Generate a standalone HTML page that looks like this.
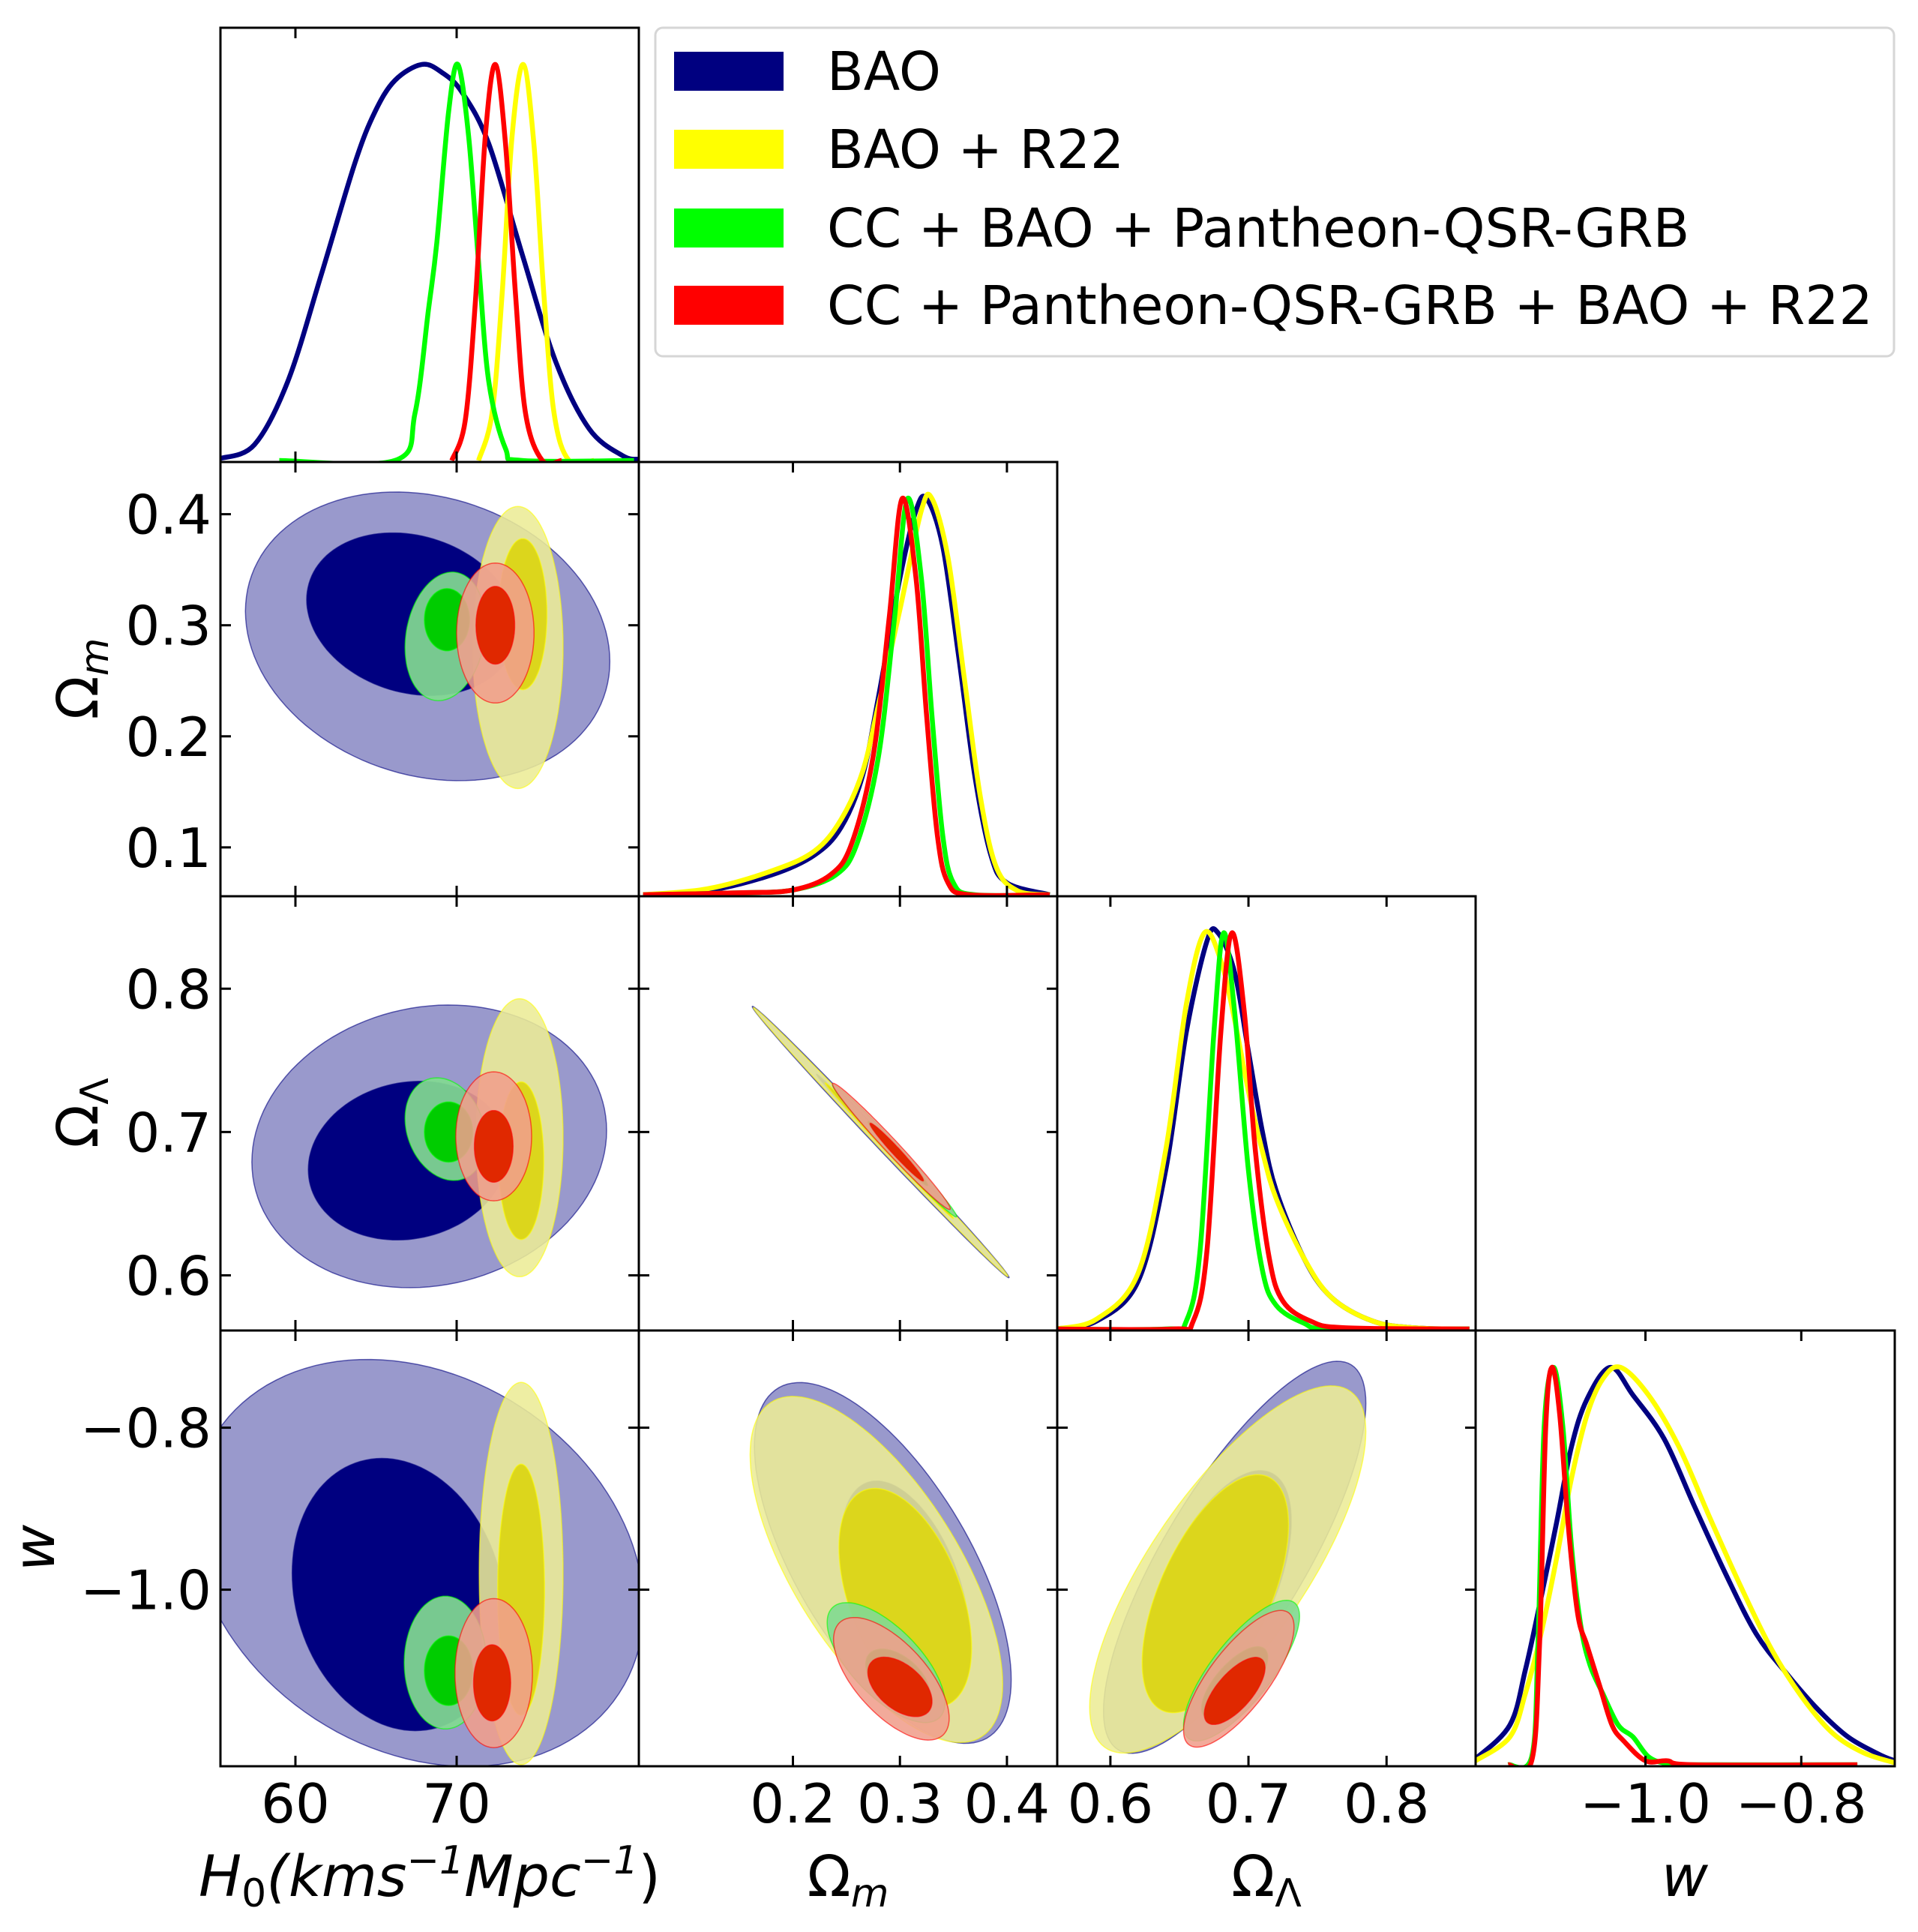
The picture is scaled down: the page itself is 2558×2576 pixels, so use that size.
<!DOCTYPE html>
<html><head><meta charset="utf-8"><style>
html,body{margin:0;padding:0;background:#fff;}
svg{display:block;font-family:"DejaVu Sans","Liberation Sans",sans-serif;}
</style></head><body>
<svg id="fig" width="2558" height="2576" viewBox="0 0 2558 2576" xmlns="http://www.w3.org/2000/svg"></svg>
<script>
// ---------- data ----------
const seriesNames = ["BAO","BAO + R22","CC + BAO + Pantheon-QSR-GRB","CC + Pantheon-QSR-GRB + BAO + R22"];
const paramNames = ["H0","Om","OL","w"];
const ranges = [[55.35,81.3],[0.056,0.447],[0.5615,0.8645],[-1.218,-0.68]];
const tickH0 = [60,70];
const tickOm = [0.1,0.2,0.3,0.4];
const tickOmX = [0.2,0.3,0.4];
const tickOL = [0.6,0.7,0.8];
const tickW = [-1.0,-0.8];
const tickLabelsH0 = ["60","70"];
// 1D marginals: [x, relative density]
const margH0_BAO = [[55.34,0.005],[57.46,0.04],[59.53,0.2],[61.61,0.47],[63.68,0.75],[64.93,0.88],[66.18,0.96],[67.84,1],[69.08,0.98],[70.33,0.93],[71.99,0.8],[74.07,0.52],[76.14,0.25],[78.22,0.08],[80.3,0.012],[81.3,0.003]];
const margH0_R22 = [[71.36,0],[72.2,0.12],[72.82,0.42],[73.44,0.82],[74.13,1],[74.79,0.8],[75.41,0.42],[76.04,0.12],[76.97,0],[78.5,0]];
const margH0_CC = [[59,0],[66.17,0],[67.42,0.12],[68.25,0.38],[68.77,0.55],[69.5,0.88],[70.08,1],[70.74,0.82],[71.36,0.5],[71.99,0.2],[73.03,0.03],[74.06,0],[81,0]];
const margH0_ALL = [[69.7,0],[70.53,0.1],[71.16,0.4],[71.78,0.82],[72.4,1],[73.03,0.8],[73.65,0.42],[74.27,0.12],[75.31,0],[76.5,0]];
const margOm_BAO = [[0.06,0],[0.12,0.01],[0.18,0.05],[0.22,0.1],[0.245,0.17],[0.265,0.3],[0.28,0.5],[0.3,0.8],[0.315,0.97],[0.325,1],[0.34,0.88],[0.355,0.6],[0.37,0.3],[0.385,0.1],[0.40,0.03],[0.44,0]];
const margOm_R22 = [[0.06,0],[0.12,0.015],[0.18,0.06],[0.22,0.11],[0.245,0.19],[0.265,0.31],[0.28,0.48],[0.3,0.72],[0.32,0.97],[0.33,1],[0.345,0.85],[0.36,0.55],[0.375,0.25],[0.39,0.07],[0.41,0.01],[0.44,0]];
const margOm_CC = [[0.06,0],[0.15,0.005],[0.2,0.012],[0.24,0.05],[0.26,0.13],[0.28,0.35],[0.295,0.7],[0.307,1],[0.32,0.8],[0.33,0.45],[0.34,0.15],[0.35,0.03],[0.37,0],[0.44,0]];
const margOm_ALL = [[0.06,0],[0.15,0.005],[0.2,0.012],[0.235,0.05],[0.255,0.13],[0.275,0.35],[0.29,0.7],[0.302,1],[0.315,0.8],[0.325,0.45],[0.335,0.15],[0.345,0.03],[0.365,0],[0.44,0]];
const margOL_BAO = [[0.56,0],[0.59,0.02],[0.62,0.12],[0.64,0.4],[0.655,0.75],[0.67,0.98],[0.678,1],[0.69,0.9],[0.7,0.7],[0.71,0.5],[0.72,0.35],[0.74,0.18],[0.76,0.08],[0.79,0.02],[0.82,0.003],[0.86,0]];
const margOL_R22 = [[0.56,0],[0.59,0.025],[0.62,0.14],[0.64,0.45],[0.655,0.82],[0.668,1],[0.68,0.93],[0.69,0.78],[0.7,0.6],[0.71,0.45],[0.72,0.33],[0.74,0.18],[0.76,0.08],[0.79,0.02],[0.82,0.003],[0.86,0]];
const margOL_CC = [[0.56,0],[0.64,0],[0.655,0.02],[0.665,0.2],[0.675,0.75],[0.682,1],[0.69,0.8],[0.7,0.4],[0.71,0.15],[0.72,0.06],[0.74,0.015],[0.76,0],[0.86,0]];
const margOL_ALL = [[0.56,0],[0.645,0],[0.66,0.02],[0.67,0.2],[0.68,0.75],[0.688,1],[0.697,0.8],[0.705,0.45],[0.715,0.18],[0.725,0.07],[0.745,0.02],[0.77,0.003],[0.86,0]];
const margW_BAO = [[-1.218,0.015],[-1.174,0.1],[-1.154,0.24],[-1.134,0.42],[-1.114,0.61],[-1.095,0.8],[-1.075,0.92],[-1.045,1],[-1.016,0.93],[-0.976,0.82],[-0.937,0.65],[-0.897,0.48],[-0.858,0.33],[-0.819,0.23],[-0.779,0.14],[-0.74,0.07],[-0.7,0.026],[-0.68,0.01]];
const margW_R22 = [[-1.218,0.01],[-1.174,0.07],[-1.154,0.18],[-1.134,0.33],[-1.114,0.52],[-1.095,0.72],[-1.075,0.88],[-1.055,0.97],[-1.032,1],[-0.996,0.93],[-0.957,0.8],[-0.917,0.62],[-0.878,0.45],[-0.838,0.29],[-0.799,0.17],[-0.76,0.08],[-0.72,0.03],[-0.68,0.005]];
const margW_CC = [[-1.176,0],[-1.146,0.02],[-1.138,0.3],[-1.13,0.85],[-1.118,1],[-1.106,0.85],[-1.095,0.55],[-1.083,0.35],[-1.071,0.25],[-1.055,0.18],[-1.035,0.1],[-1.016,0.07],[-0.996,0.02],[-0.972,0.003],[-0.937,0],[-0.728,0]];
const margW_ALL = [[-1.176,0],[-1.146,0.01],[-1.136,0.3],[-1.128,0.85],[-1.12,1],[-1.11,0.88],[-1.099,0.6],[-1.087,0.38],[-1.075,0.3],[-1.059,0.2],[-1.043,0.1],[-1.028,0.06],[-1.0,0.01],[-0.972,0.01],[-0.937,0],[-0.728,0]];
// 2D contours: [cx, cy, halfWidthX, halfWidthY, skew]  (outer, inner)
const c_H0_Om = {
 BAO:[[68.2,0.29,11.3,0.128,-0.002],[67.2,0.31,6.5,0.072,-0.002]],
 R22:[[73.8,0.28,2.8,0.127,0],[74.1,0.31,1.5,0.068,0]],
 CC:[[69.3,0.29,2.5,0.057,0.004],[69.4,0.305,1.4,0.028,0]],
 ALL:[[72.4,0.293,2.4,0.063,0],[72.4,0.30,1.2,0.035,0]]};
const c_H0_OL = {
 BAO:[[68.3,0.69,11,0.098,0.001],[67,0.68,6.2,0.055,0.001]],
 R22:[[73.9,0.696,2.7,0.097,0],[74,0.68,1.4,0.055,0]],
 CC:[[69.3,0.702,2.5,0.035,-0.003],[69.5,0.70,1.5,0.021,0]],
 ALL:[[72.3,0.697,2.35,0.045,0],[72.3,0.69,1.2,0.025,0]]};
const c_Om_OL = {
 BAO:[[0.282,0.693,0.12,0.006,-0.7875],[0.282,0.693,0.06,0.003,-0.7875]],
 R22:[[0.282,0.693,0.119,0.005,-0.7875],[0.29,0.687,0.06,0.003,-0.7875]],
 CC:[[0.295,0.687,0.058,0.006,-0.79],[0.298,0.685,0.028,0.004,-0.79]],
 ALL:[[0.292,0.69,0.055,0.007,-0.79],[0.297,0.686,0.025,0.004,-0.79]]};
const c_H0_W = {
 BAO:[[67.6,-0.967,14,0.245,-0.004],[66.4,-1.006,6.6,0.166,-0.004]],
 R22:[[74,-0.98,2.6,0.236,0],[74,-1.0,1.45,0.155,0]],
 CC:[[69.3,-1.09,2.55,0.082,0],[69.5,-1.10,1.5,0.043,0]],
 ALL:[[72.3,-1.103,2.4,0.092,0],[72.2,-1.115,1.15,0.047,0]]};
const c_Om_W = {
 BAO:[[0.284,-0.967,0.12,0.17,-1.2],[0.305,-1.0,0.06,0.12,-1.0]],
 R22:[[0.278,-0.975,0.118,0.16,-1.2],[0.305,-1.01,0.062,0.12,-1.0]],
 CC:[[0.287,-1.09,0.055,0.055,-0.9],[0.298,-1.11,0.03,0.032,-0.6]],
 ALL:[[0.292,-1.11,0.054,0.058,-0.9],[0.30,-1.12,0.03,0.032,-0.6]]};
const c_OL_W = {
 BAO:[[0.69,-0.96,0.095,0.15,2.0],[0.678,-1.0,0.053,0.12,1.6]],
 R22:[[0.685,-0.975,0.1,0.15,1.7],[0.676,-1.005,0.053,0.12,1.6]],
 CC:[[0.695,-1.1,0.042,0.055,1.6],[0.69,-1.115,0.024,0.032,1.3]],
 ALL:[[0.693,-1.11,0.04,0.055,1.6],[0.69,-1.125,0.022,0.03,1.3]]};

// ---------- layout ----------
const NS="http://www.w3.org/2000/svg";
const svg=document.getElementById('fig');
const PX=[294,852,1410,1968,2527], PY=[37,616,1195,1774,2355];
const colors={BAO:"#000080",R22:"#ffff00",CC:"#00ff00",ALL:"#ff0000"};
const fillOuter={BAO:"rgba(0,0,128,0.4)",R22:"rgba(236,236,150,0.88)",CC:"rgba(130,218,145,0.92)",ALL:"rgba(240,158,140,0.88)"};
const fillInner={BAO:"#000080",R22:"#dcd61c",CC:"#00cc00",ALL:"#e02800"};
function el(tag,attrs,parent){const e=document.createElementNS(NS,tag);for(const k in attrs)e.setAttribute(k,attrs[k]);(parent||svg).appendChild(e);return e;}
function sx(p,col,v){const r=ranges[p];return PX[col]+(v-r[0])/(r[1]-r[0])*(PX[col+1]-PX[col]);}
function sy(p,row,v){const r=ranges[p];return PY[row+1]-(v-r[0])/(r[1]-r[0])*(PY[row+1]-PY[row]);}
function smooth(pts){let d="M"+pts[0][0]+","+pts[0][1];for(let i=0;i<pts.length-1;i++){const p0=pts[Math.max(0,i-1)],p1=pts[i],p2=pts[i+1],p3=pts[Math.min(pts.length-1,i+2)];const c1=[p1[0]+(p2[0]-p0[0])/6,p1[1]+(p2[1]-p0[1])/6],c2=[p2[0]-(p3[0]-p1[0])/6,p2[1]-(p3[1]-p1[1])/6];d+=" C"+c1[0]+","+c1[1]+" "+c2[0]+","+c2[1]+" "+p2[0]+","+p2[1];}return d;}
let clipId=0;
function panel(row,col,name){
  const g=el('g',{});
  
  
  const id='clip'+(clipId++);
  const cp=el('clipPath',{id:id},g);
  el('rect',{x:PX[col],y:PY[row],width:PX[col+1]-PX[col],height:PY[row+1]-PY[row]},cp);
  const inner=el('g',{'clip-path':'url(#'+id+')'},g);
  return {g,inner};
}
function frame(g,row,col){
  const r=el('rect',{x:PX[col],y:PY[row],width:PX[col+1]-PX[col],height:PY[row+1]-PY[row],fill:'none',stroke:'#000','stroke-width':3},g);
  
  
}
const xticksFor=[tickH0,tickOmX,tickOL,tickW];
const yticksFor=[null,tickOm,tickOL,tickW];
function ticks(g,row,col,diag){
  const tl=14;
  xticksFor[col].forEach(t=>{const x=sx(col,col,t);
    el('line',{x1:x,y1:PY[row+1],x2:x,y2:PY[row+1]-tl,stroke:'#000','stroke-width':3},g);
    el('line',{x1:x,y1:PY[row],x2:x,y2:PY[row]+tl,stroke:'#000','stroke-width':3},g);});
  if(!diag){yticksFor[row].forEach(t=>{const y=sy(row,row,t);
    el('line',{x1:PX[col],y1:y,x2:PX[col]+tl,y2:y,stroke:'#000','stroke-width':3},g);
    el('line',{x1:PX[col+1],y1:y,x2:PX[col+1]-tl,y2:y,stroke:'#000','stroke-width':3},g);});}
}
function contourPath(p,row,pc,pr,c){
  const pts=[];for(let i=0;i<120;i++){const th=i/120*2*Math.PI;const dx=c[2]*Math.cos(th);const x=c[0]+dx;const y=c[1]+c[3]*Math.sin(th)+c[4]*dx;pts.push((i?"L":"M")+sx(pc,p,x).toFixed(1)+","+sy(pr,row,y).toFixed(1));}
  return pts.join(" ")+"Z";
}
function draw2D(row,col,data,name){
  const {g,inner}=panel(row,col,name);
  ["BAO","R22","CC","ALL"].forEach(s=>{
    const o=el('path',{d:contourPath(col,row,col,row,data[s][0]),fill:fillOuter[s],stroke:colors[s],'stroke-width':1.5,'stroke-opacity':0.6},inner);
    
    
    const n=el('path',{d:contourPath(col,row,col,row,data[s][1]),fill:fillInner[s],stroke:colors[s],'stroke-width':1.5,'stroke-opacity':0.6},inner);
    
    
  });
  frame(g,row,col);ticks(g,row,col,false);
}
function draw1D(i,marg,name){
  const {g,inner}=panel(i,i,name);
  const H=(PY[i+1]-PY[i])*0.912;
  ["BAO","R22","CC","ALL"].forEach(s=>{
    const pts=marg[s].map(d=>[sx(i,i,d[0]),PY[i+1]-2-d[1]*H]);
    const p=el('path',{d:smooth(pts),fill:'none',stroke:colors[s],'stroke-width':6.5,'stroke-linejoin':'round'},inner);
    
    
  });
  frame(g,i,i);ticks(g,i,i,true);
}
draw1D(0,{BAO:margH0_BAO,R22:margH0_R22,CC:margH0_CC,ALL:margH0_ALL},'marginal-h0');
draw1D(1,{BAO:margOm_BAO,R22:margOm_R22,CC:margOm_CC,ALL:margOm_ALL},'marginal-omega-m');
draw1D(2,{BAO:margOL_BAO,R22:margOL_R22,CC:margOL_CC,ALL:margOL_ALL},'marginal-omega-lambda');
draw1D(3,{BAO:margW_BAO,R22:margW_R22,CC:margW_CC,ALL:margW_ALL},'marginal-w');
draw2D(1,0,c_H0_Om,'panel-h0-omega-m');
draw2D(2,0,c_H0_OL,'panel-h0-omega-lambda');
draw2D(2,1,c_Om_OL,'panel-omega-m-omega-lambda');
draw2D(3,0,c_H0_W,'panel-h0-w');
draw2D(3,1,c_Om_W,'panel-omega-m-w');
draw2D(3,2,c_OL_W,'panel-omega-lambda-w');

// tick labels
const fs=72;
function txt(x,y,s,anchor,name,extra){const t=el('text',Object.assign({x:x,y:y,'font-size':fs,'text-anchor':anchor,fill:'#000'},extra||{}));t.textContent=s;
  
  return t;}
function fmt(v,dec){const s=Math.abs(v).toFixed(dec);return (v<0?"\u2212":"")+s;}
tickH0.forEach((t,i)=>txt(sx(0,0,t),2430,tickLabelsH0[i],'middle','x-tick-label'));
tickOmX.forEach(t=>txt(sx(1,1,t),2430,fmt(t,1),'middle','x-tick-label'));
tickOL.forEach(t=>txt(sx(2,2,t),2430,fmt(t,1),'middle','x-tick-label'));
tickW.forEach(t=>txt(sx(3,3,t),2430,fmt(t,1),'middle','x-tick-label'));
tickOm.forEach(t=>txt(282,sy(1,1,t)+26,fmt(t,1),'end','y-tick-label'));
tickOL.forEach(t=>txt(282,sy(2,2,t)+26,fmt(t,1),'end','y-tick-label'));
tickW.forEach(t=>txt(282,sy(3,3,t)+26,fmt(t,1),'end','y-tick-label'));

// axis labels
function axLabel(x,y,html,name,rot){const t=el('text',{x:x,y:y,'font-size':76,'text-anchor':'middle',fill:'#000','font-style':'italic'});
  if(rot)t.setAttribute('transform','rotate(-90 '+x+' '+y+')');
  t.innerHTML=html;
  
  }
axLabel(573,2528,'H<tspan font-size="52" dy="14" font-style="normal">0</tspan><tspan dy="-14">(kms</tspan><tspan font-size="52" dy="-30">\u22121</tspan><tspan dy="30">Mpc</tspan><tspan font-size="52" dy="-30">\u22121</tspan><tspan dy="30" font-style="normal">)</tspan>','x-axis-title-h0');
axLabel(1131,2528,'<tspan font-style="normal">\u03A9</tspan><tspan font-size="52" dy="14">m</tspan>','x-axis-title-omega-m');
axLabel(1689,2528,'<tspan font-style="normal">\u03A9</tspan><tspan font-size="52" dy="14" font-style="normal">\u039B</tspan>','x-axis-title-omega-lambda');
axLabel(2247,2528,'w','x-axis-title-w');
axLabel(130,905,'<tspan font-style="normal">\u03A9</tspan><tspan font-size="52" dy="14">m</tspan>','y-axis-title-omega-m',true);
axLabel(130,1484,'<tspan font-style="normal">\u03A9</tspan><tspan font-size="52" dy="14" font-style="normal">\u039B</tspan>','y-axis-title-omega-lambda',true);
axLabel(72,2064,'w','y-axis-title-w',true);

// legend
const lg=el('g',{});


el('rect',{x:874,y:37,width:1652,height:438,rx:10,fill:'#fff',stroke:'#d6d6d6','stroke-width':3},lg);
const legKeys=["BAO","R22","CC","ALL"], legY=[95,199,304,407];
legKeys.forEach((k,i)=>{
  const r=el('rect',{x:899,y:legY[i]-26,width:146,height:52,fill:colors[k]},lg);
  
  
  const t=el('text',{x:1103,y:legY[i]+25,'font-size':71,fill:'#000'},lg);
  t.textContent=seriesNames[i];
  
  
});
</script>
</body></html>
